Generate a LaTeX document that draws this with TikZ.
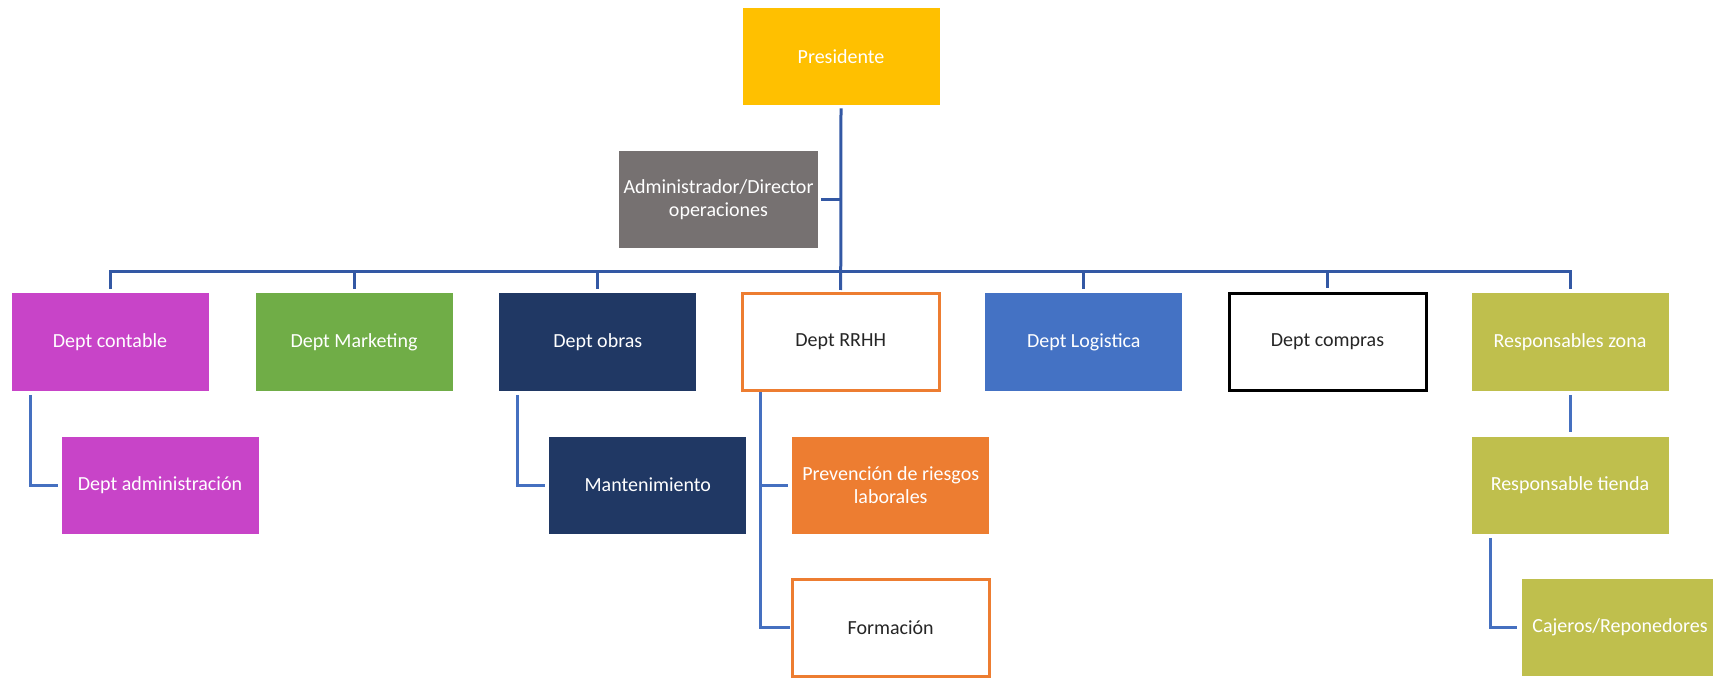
\documentclass[tikz,border=0pt]{standalone}
\usepackage{fontspec}
\setmainfont{Carlito}
\usetikzlibrary{calc}

\definecolor{presyellow}{HTML}{FFC000}
\definecolor{admingray}{HTML}{767171}
\definecolor{magentabox}{HTML}{C844C8}
\definecolor{greenbox}{HTML}{70AD47}
\definecolor{navybox}{HTML}{203864}
\definecolor{orangebox}{HTML}{ED7D31}
\definecolor{bluebox}{HTML}{4472C4}
\definecolor{olivebox}{HTML}{BFBF4D}
\definecolor{busblue}{HTML}{3358A4}
\definecolor{linkblue}{HTML}{4570C0}

\tikzset{
  orgbox/.style={rectangle, minimum width=98.5pt, minimum height=48.5pt,
    inner sep=1pt, align=center, text=white,
    font=\fontsize{10}{11.5}\selectfont},
  filledbox/.style={orgbox, fill=#1},
  outlinebox/.style={orgbox, draw=#1, line width=1.5pt, fill=white, text=black!85},
  busline/.style={draw=busblue, line width=1.5pt},
  linkline/.style={draw=linkblue, line width=1.5pt},
}

\begin{document}
\begin{tikzpicture}[x=0.5pt, y=-0.5pt]
  \useasboundingbox (0,0) rectangle (1713,679);
  \clip (0,0) rectangle (1713,679);

  % top of the chart
  \node[filledbox=presyellow] (pres)  at (841,56.5)   {Presidente};
  \node[filledbox=admingray, minimum width=99.5pt] (admin) at (718.5,199.5)
        {Administrador/Director\\operaciones};

  % departments
  \node[filledbox=magentabox] (contable) at (110,342)    {Dept contable};
  \node[filledbox=greenbox]   (marketing) at (354,342)   {Dept Marketing};
  \node[filledbox=navybox]    (obras) at (597.8,342)     {Dept obras};
  \node[outlinebox=orangebox] (rrhh) at (840.7,342)      {Dept RRHH};
  \node[filledbox=bluebox]    (logistica) at (1083.8,342){Dept Logistica};
  \node[outlinebox=black]     (compras) at (1327.5,342)  {Dept compras};
  \node[filledbox=olivebox]   (zona) at (1570,342)       {Responsables zona};

  % second level
  \node[filledbox=magentabox] (administracion) at (160,485) {Dept administración};
  \node[filledbox=navybox]    (mant) at (647.8,485)   {Mantenimiento};
  \node[filledbox=orangebox]  (prev) at (890.7,485)   {Prevención de riesgos\\laborales};
  \node[filledbox=olivebox]   (tienda) at (1570,485)  {Responsable tienda};

  % third level
  \node[outlinebox=orangebox] (form) at (890.7,627.5)   {Formación};
  \node[filledbox=olivebox]   (cajeros) at (1620,627.5) {Cajeros/Reponedores};

  % bus joining the departments
  \coordinate (bus) at (841,271.5);
  \draw[busline] ([yshift=-1.5pt]pres.south) -- ([yshift=1pt]rrhh.north);
  \draw[busline] ([xshift=1.5pt]admin.east) -- (admin.east -| pres.south);
  \draw[busline] ([yshift=2pt]contable.north) |- (bus) -| ([yshift=2pt]zona.north);
  \foreach \d in {marketing, obras, logistica, compras}
    \draw[busline] (bus -| \d.north) -- ([yshift=2pt]\d.north);

  % links to the second and third levels
  \coordinate (contabledrop) at ($(contable.south)+(-80,4)$);
  \coordinate (obrasdrop)    at ($(obras.south)+(-80,4)$);
  \coordinate (rrhhdrop)     at ($(rrhh.south)+(-80,0)$);
  \coordinate (tiendadrop)   at ($(tienda.south)+(-80,4)$);
  \draw[linkline] (contabledrop) |- ([xshift=-1.75pt]administracion.west);
  \draw[linkline] (obrasdrop) |- ([xshift=-1.75pt]mant.west);
  \draw[linkline] (rrhhdrop) |- ([xshift=-0.5pt]form.west);
  \draw[linkline] (rrhhdrop |- prev.west) -- ([xshift=-1.75pt]prev.west);
  \draw[linkline] ([yshift=-2pt]zona.south) -- ([yshift=2pt]tienda.north);
  \draw[linkline] (tiendadrop) |- ([xshift=-2pt]cajeros.west);
\end{tikzpicture}
\end{document}
